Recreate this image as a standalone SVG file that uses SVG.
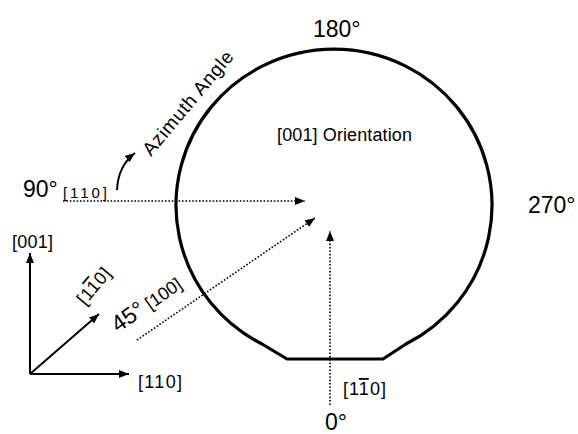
<svg xmlns="http://www.w3.org/2000/svg" width="578" height="434" viewBox="0 0 578 434">
<style>
text { font-family: "Liberation Sans", Arial, sans-serif; fill: #000; }
.big { font-size: 23px; }
.mid { font-size: 18px; }
.sm { font-size: 15px; }
.ov { text-decoration: overline; }
.solid { stroke: #000; stroke-width: 2; fill: none; }
.dot { stroke: #000; stroke-width: 1.6; fill: none; stroke-dasharray: 1.6 1.8; }
</style>
<defs>
<marker id="ah" viewBox="0 0 10 8" refX="10" refY="4" markerWidth="10" markerHeight="8" markerUnits="userSpaceOnUse" orient="auto">
<path d="M0,0 L10,4 L0,8 z" fill="#000"/>
</marker>
</defs>
<rect width="578" height="434" fill="#fff"/>

<g id="wafer">
<path d="M 287 359 L 262 344 A 158 156 0 1 1 406 344 L 383 359 Z" fill="none" stroke="#000" stroke-width="3.2" stroke-linejoin="round"/>
<text class="mid" x="277" y="141" textLength="135">[001] Orientation</text>
</g>

<g id="angle-labels">
<text class="big" x="313" y="37">180°</text>
<text class="big" x="528" y="213">270°</text>
<text class="big" x="23" y="197">90°</text>
<text class="sm" x="63" y="198" textLength="44">[110]</text>
<text class="big" x="325" y="430">0°</text>
<text class="mid" x="343" y="395" textLength="43">[1<tspan class="ov">1</tspan>0]</text>
<g transform="translate(118,333) rotate(-35)">
<text><tspan class="big">45°</tspan><tspan class="mid" dx="5">[100]</tspan></text>
</g>
<g transform="translate(151,157) rotate(-50)">
<text style="font-size:19px" textLength="130">Azimuth Angle</text>
</g>
</g>

<g id="connectors">
<path class="solid" d="M 117 190 Q 118 166 135 153" marker-end="url(#ah)"/>
<line class="dot" x1="63" y1="201" x2="305" y2="201" marker-end="url(#ah)"/>
<line class="dot" x1="137" y1="340" x2="315" y2="218" marker-end="url(#ah)"/>
<line class="dot" x1="330" y1="405" x2="330" y2="231" marker-end="url(#ah)"/>
</g>

<g id="axes">
<line class="solid" x1="30" y1="374" x2="30" y2="253" marker-end="url(#ah)"/>
<line class="solid" x1="30" y1="374" x2="129" y2="374" marker-end="url(#ah)"/>
<line class="solid" x1="30" y1="374" x2="99" y2="314" marker-end="url(#ah)"/>
<text class="mid" x="12" y="248" textLength="41">[001]</text>
<text class="mid" x="138" y="388" textLength="44">[110]</text>
<g transform="translate(85,306) rotate(-50)">
<text class="mid" textLength="42">[1<tspan class="ov">1</tspan>0]</text>
</g>
</g>
</svg>
